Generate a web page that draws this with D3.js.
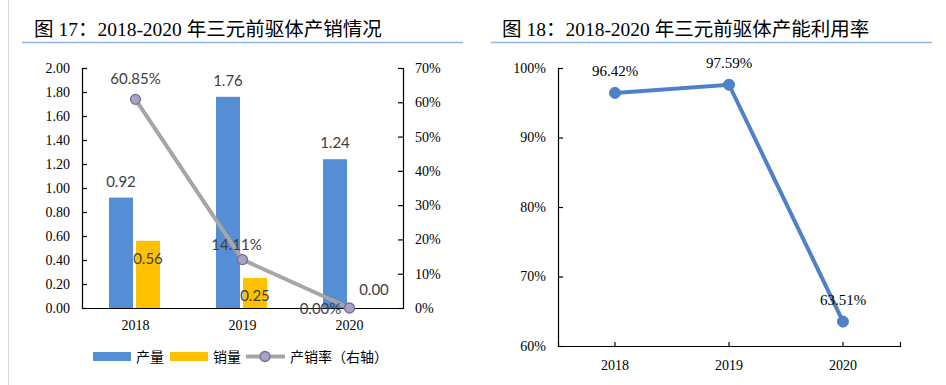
<!DOCTYPE html>
<html><head><meta charset="utf-8">
<script src="https://cdn.jsdelivr.net/npm/d3@7"></script>
<style>
body{margin:0;background:#fff;}
svg{display:block;}
</style></head>
<body>
<svg id="c" width="946" height="385"></svg>
<script>
const years = ["2018","2019","2020"];
const production = [0.92, 1.76, 1.24];
const sales = [0.56, 0.25, 0.00];
const salesRate = [0.6085, 0.1411, 0.0000];
const leftTicks = [0,0.2,0.4,0.6,0.8,1.0,1.2,1.4,1.6,1.8,2.0];
const rightTicks = [0,0.1,0.2,0.3,0.4,0.5,0.6,0.7];
const utilization = [0.9642, 0.9759, 0.6351];
const utilTicks = [0.6,0.7,0.8,0.9,1.0];
const title1 = "图 17：2018-2020 年三元前驱体产销情况";
const title2 = "图 18：2018-2020 年三元前驱体产能利用率";
const legendNames = ["产量","销量","产销率（右轴）"];

const svg = d3.select("#c");
const serif = "'Liberation Serif','Times New Roman','Noto Sans CJK SC',serif";
const sans = "Lato,'Noto Sans','Noto Sans CJK SC',sans-serif";
const cjk = "'Noto Sans CJK SC',sans-serif";
const blue = "#558ED5", yellow = "#FFC000", gray = "#A6A6A6", lab = "#404040";

// page border line
svg.append("line").attr("x1",8.5).attr("x2",8.5).attr("y1",0).attr("y2",385).attr("stroke","#d9d9d9").attr("stroke-width",1);

// titles
function title(t, x, x1, x2){
  svg.append("text").attr("x",x).attr("y",36).attr("font-family",serif).attr("font-size",19.5).attr("fill","#000").text(t);
  svg.append("line").attr("x1",x1).attr("x2",x2).attr("y1",42.5).attr("y2",42.5).attr("stroke","#8EB4E3").attr("stroke-width",1.5);
}
title(title1, 34, 22, 463);
title(title2, 502, 491, 932);

// ===== Left chart =====
const L = {x0:82, x1:403, y0:308, y1:68};
const xb = d3.scaleBand().domain(years).range([L.x0, L.x1]);
const yL = d3.scaleLinear().domain([0,2]).range([L.y0, L.y1]);
const yR = d3.scaleLinear().domain([0,0.7]).range([L.y0, L.y1]);
const g1 = svg.append("g");
const bw = 24, gap = 6;

// bars
g1.selectAll(".bp").data(production).enter().append("rect")
  .attr("x",(d,i)=>xb(years[i])+xb.bandwidth()/2-bw-gap/2+0.5)
  .attr("y",d=>yL(d)).attr("width",bw).attr("height",d=>L.y0-yL(d)).attr("fill",blue);
g1.selectAll(".bs").data(sales).enter().append("rect")
  .attr("x",(d,i)=>xb(years[i])+xb.bandwidth()/2+gap/2-2.5)
  .attr("y",d=>yL(d)).attr("width",bw).attr("height",d=>Math.max(0,L.y0-yL(d))).attr("fill",yellow);

// axes
const axL = d3.axisLeft(yL).tickValues(leftTicks).tickFormat(d3.format(".2f")).tickSizeInner(-5).tickSizeOuter(-5).tickPadding(12);
const gL = svg.append("g").attr("transform",`translate(${L.x0},0)`).call(axL);
const axR = d3.axisRight(yR).tickValues(rightTicks).tickFormat(d3.format(".0%")).tickSizeInner(-5).tickSizeOuter(-5).tickPadding(12);
const gR = svg.append("g").attr("transform",`translate(${L.x1},0)`).call(axR);
const axB = d3.axisBottom(xb).tickSize(0).tickPadding(12);
const gB = svg.append("g").attr("transform",`translate(0,${L.y0})`).call(axB);
[gL,gR,gB].forEach(g=>{
  g.selectAll("path,line").attr("stroke","#000").attr("stroke-width",1.2);
  g.selectAll("text").attr("font-family",serif).attr("font-size",14).attr("fill","#000");
});
gB.select("path").attr("d",`M${L.x0},0.5H${L.x1}`);

// line
const lineL = d3.line().x((d,i)=>xb(years[i])+xb.bandwidth()/2).y(d=>yR(d));
svg.append("path").attr("d",lineL(salesRate)).attr("fill","none").attr("stroke",gray).attr("stroke-width",4);
svg.selectAll(".mk").data(salesRate).enter().append("circle")
  .attr("cx",(d,i)=>xb(years[i])+xb.bandwidth()/2).attr("cy",d=>yR(d)).attr("r",5)
  .attr("fill","#A5A5C0").attr("stroke","#8064A2").attr("stroke-width",1.3);

// data labels
const lf = (sel)=>sel.attr("font-family",sans).attr("font-size",15).attr("fill",lab).attr("text-anchor","middle");
svg.selectAll(".lp").data(production).enter().append("text").call(lf)
  .attr("x",(d,i)=>xb(years[i])+xb.bandwidth()/2-bw/2-gap/2+0.5).attr("y",d=>yL(d)-11).text(d=>d.toFixed(2));
svg.selectAll(".ls").data(sales).enter().append("text").call(lf)
  .attr("x",(d,i)=>xb(years[i])+xb.bandwidth()/2+bw/2+gap/2-2.5+(d===0?12:0))
  .attr("y",(d,i)=>d===0? yL(d)-13 : yL(d)+23).text(d=>d.toFixed(2));
const rateOff = [[0,-15],[-6,-10],[-29,6]];
svg.selectAll(".lr").data(salesRate).enter().append("text").call(lf)
  .attr("x",(d,i)=>xb(years[i])+xb.bandwidth()/2+rateOff[i][0]).attr("y",(d,i)=>yR(d)+rateOff[i][1])
  .text(d=>(d*100).toFixed(2)+"%");

// legend
const lg = svg.append("g");
lg.append("rect").attr("x",93).attr("y",352).attr("width",38).attr("height",9).attr("fill",blue);
lg.append("text").attr("x",136).attr("y",362).attr("font-family",cjk).attr("font-size",14).attr("fill","#000").text(legendNames[0]);
lg.append("rect").attr("x",170).attr("y",352).attr("width",38).attr("height",9).attr("fill",yellow);
lg.append("text").attr("x",213).attr("y",362).attr("font-family",cjk).attr("font-size",14).attr("fill","#000").text(legendNames[1]);
lg.append("line").attr("x1",246).attr("x2",285).attr("y1",356.5).attr("y2",356.5).attr("stroke",gray).attr("stroke-width",4);
lg.append("circle").attr("cx",265).attr("cy",356.5).attr("r",5).attr("fill","#A5A5C0").attr("stroke","#8064A2").attr("stroke-width",1.3);
lg.append("text").attr("x",290).attr("y",362).attr("font-family",cjk).attr("font-size",14).attr("fill","#000").text(legendNames[2]);

// ===== Right chart =====
const R = {x0:558, x1:900, y0:346, y1:68};
const xb2 = d3.scaleBand().domain(years).range([R.x0, R.x1]);
const y2 = d3.scaleLinear().domain([0.6,1.0]).range([R.y0, R.y1]);
const ax2L = d3.axisLeft(y2).tickValues(utilTicks).tickFormat(d3.format(".0%")).tickSizeInner(-5).tickSizeOuter(-5).tickPadding(12);
const g2L = svg.append("g").attr("transform",`translate(${R.x0},0)`).call(ax2L);
const ax2B = d3.axisBottom(xb2).tickSizeInner(-4).tickSizeOuter(-4).tickPadding(14);
const g2B = svg.append("g").attr("transform",`translate(0,${R.y0})`).call(ax2B);
[g2L,g2B].forEach(g=>{
  g.selectAll("path,line").attr("stroke","#000").attr("stroke-width",1.2);
  g.selectAll("text").attr("font-family",serif).attr("font-size",14).attr("fill","#000");
});
const line2 = d3.line().x((d,i)=>xb2(years[i])+xb2.bandwidth()/2).y(d=>y2(d));
svg.append("path").attr("d",line2(utilization)).attr("fill","none").attr("stroke","#4F81C9").attr("stroke-width",4);
svg.selectAll(".m2").data(utilization).enter().append("circle")
  .attr("cx",(d,i)=>xb2(years[i])+xb2.bandwidth()/2).attr("cy",d=>y2(d)).attr("r",5.5)
  .attr("fill","#4F81C9").attr("stroke","#4A7EBB").attr("stroke-width",1);
svg.selectAll(".l2").data(utilization).enter().append("text")
  .attr("font-family",serif).attr("font-size",15).attr("fill","#000").attr("text-anchor","middle")
  .attr("x",(d,i)=>xb2(years[i])+xb2.bandwidth()/2).attr("y",d=>y2(d)-17)
  .text(d=>(d*100).toFixed(2)+"%");
</script>
</body></html>
